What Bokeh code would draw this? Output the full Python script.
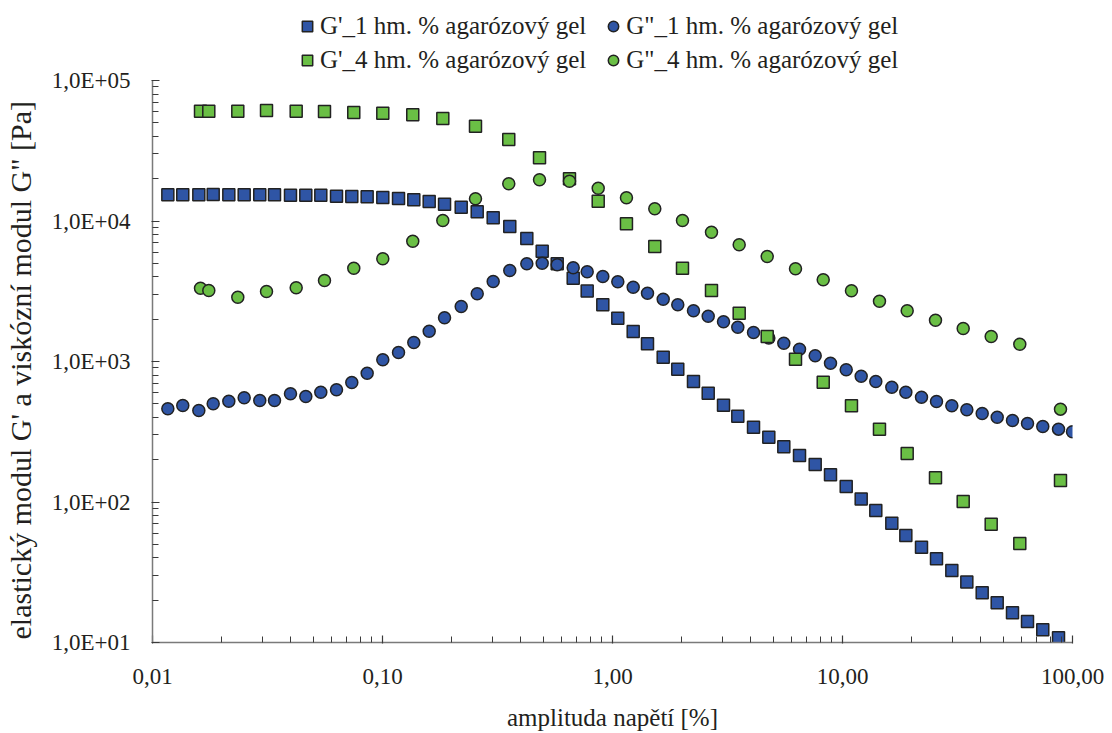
from bokeh.plotting import figure
from bokeh.models import (Range1d, FixedTicker, CustomJSTickFormatter, Legend,
                          LegendItem)
from bokeh.embed import file_html
from bokeh.resources import INLINE

# ---------------- data ----------------
# strain amplitude [%], 1 wt.% gel (shared by G' and G")
x_1 = [0.01166, 0.01354, 0.01590, 0.01836, 0.02147, 0.02504, 0.02927, 0.03392, 0.03981, 0.04640,
       0.05392, 0.06310, 0.07354, 0.08577, 0.1003, 0.1174, 0.1368, 0.1596, 0.1861, 0.2199,
       0.2581, 0.3029, 0.3576, 0.4241, 0.4947, 0.5749, 0.6748, 0.7762, 0.9075, 1.0545,
       1.2303, 1.4196, 1.6613, 1.9222, 2.2496, 2.6069, 3.0384, 3.5057, 4.1033, 4.7819,
       5.5567, 6.5034, 7.6084, 8.8683, 10.378, 12.057, 13.956, 16.383, 18.851, 22.054,
       25.627, 29.878, 34.718, 40.494, 47.055, 54.843, 63.735, 74.264, 86.937, 100.0]
# G' 1 wt.% [Pa]
gp_1 = [15370, 15370, 15370, 15440, 15370, 15370, 15370, 15370, 15270, 15270,
        15270, 15020, 14950, 14870, 14700, 14460, 14150, 13760, 13170, 12540,
        11630, 10540, 9140, 7510, 6100, 4960, 3920, 3170, 2530, 2030,
        1635, 1337, 1073, 882, 721, 595, 489, 408, 341, 289,
        247, 214, 185, 156, 129, 105, 87.0, 70.6, 57.7, 47.7,
        39.4, 32.5, 26.9, 22.6, 19.2, 16.3, 14.1, 12.3, 10.8]
# G" 1 wt.% [Pa]
gpp_1 = [461, 486, 448, 500, 522, 552, 528, 528, 589, 564,
         605, 629, 709, 826, 1028, 1159, 1365, 1643, 2046, 2463,
         3033, 3709, 4442, 4960, 5009, 4880, 4645, 4348, 4027, 3691,
         3379, 3062, 2776, 2533, 2296, 2101, 1917, 1754, 1608, 1470,
         1348, 1223, 1098, 973, 873, 786, 721, 656, 605, 557,
         519, 484, 453, 427, 401, 380, 362, 345, 330, 316]

# strain amplitude [%], 4 wt.% gel
x_4 = [0.01617, 0.01757, 0.02349, 0.03131, 0.04214, 0.05595, 0.07501, 0.1003, 0.1354, 0.1829,
       0.2537, 0.3540, 0.4816, 0.6501, 0.8667, 1.150, 1.527, 2.015, 2.694, 3.555,
       4.706, 6.247, 8.245, 10.94, 14.48, 19.11, 25.37, 33.48, 44.31, 59.00, 88.67]
gp_4 = [60470, 60470, 60470, 61170, 60470, 60180, 59200, 58530, 57010, 53640,
        47280, 38030, 28180, 19970, 13830, 9552, 6584, 4614, 3201, 2207,
        1507, 1038, 712, 484, 330, 221, 149, 101, 69.5, 50.6, 142]
gpp_4 = [3324, 3201, 2868, 3150, 3346, 3772, 4614, 5383, 7183, 10080,
         14390, 18400, 19650, 19200, 17120, 14630, 12210, 10080, 8325, 6770,
         5588, 4568, 3815, 3186, 2687, 2296, 1968, 1718, 1507, 1328, 458]

series_labels = ["G'_1 hm. % agarózový gel", 'G"_1 hm. % agarózový gel',
                 "G'_4 hm. % agarózový gel", 'G"_4 hm. % agarózový gel']

x_ticks = [0.01, 0.1, 1, 10, 100]
x_tick_labels = ["0,01", "0,10", "1,00", "10,00", "100,00"]
y_ticks = [10, 100, 1000, 10000, 100000]
y_tick_labels = ["1,0E+01", "1,0E+02", "1,0E+03", "1,0E+04", "1,0E+05"]

x_title = "amplituda napětí [%]"
y_title = 'elastický modul G\' a viskózní modul G" [Pa]'

# ---------------- geometry ----------------
W, H = 1112, 733
LEFT, RIGHT, BOTTOM = 152, 40, 91
AXIS_TOP_PX = 80                      # where the 1E+05 end of the y axis sits
plot_h = H - BOTTOM                   # frame reaches the top of the page
dec_px = (plot_h - AXIS_TOP_PX) / 4.0 # pixels per decade on y
y_end = 1e5 * 10 ** (AXIS_TOP_PX / dec_px)

BLUE = "#2f55a5"
GREEN = "#6abf45"
EDGE = "#222222"
TEXT = "#231f20"
FONT = "Liberation Serif"

p = figure(width=W, height=H, x_axis_type="log", y_axis_type="log",
           x_range=Range1d(0.01, 100), y_range=Range1d(10, y_end),
           output_backend="svg", toolbar_location=None,
           min_border_left=LEFT, min_border_right=RIGHT,
           min_border_top=0, min_border_bottom=BOTTOM)
p.outline_line_color = None
p.grid.visible = False
p.background_fill_color = "white"

xminor = [m * 10.0 ** e for e in range(-2, 2) for m in range(2, 10)]
yminor = [m * 10.0 ** e for e in range(1, 5) for m in range(2, 10)]
p.xaxis.ticker = FixedTicker(ticks=x_ticks, minor_ticks=xminor)
p.yaxis.ticker = FixedTicker(ticks=y_ticks, minor_ticks=yminor)
p.xaxis.bounds = (x_ticks[0], x_ticks[-1])
p.yaxis.bounds = (y_ticks[0], y_ticks[-1])

fmt_code = """
let best = 0, d = Infinity;
for (let i = 0; i < tv.length; i++) {
  const e = Math.abs(Math.log10(tick) - Math.log10(tv[i]));
  if (e < d) { d = e; best = i; }
}
return tl[best];
"""
p.xaxis.formatter = CustomJSTickFormatter(args=dict(tv=x_ticks, tl=x_tick_labels), code=fmt_code)
p.yaxis.formatter = CustomJSTickFormatter(args=dict(tv=y_ticks, tl=y_tick_labels), code=fmt_code)

for ax in (p.xaxis[0], p.yaxis[0]):
    ax.axis_line_color = "#7a7a7a"
    ax.axis_line_width = 1.5
    ax.major_tick_line_color = "#3a3a3a"
    ax.minor_tick_line_color = "#3a3a3a"
    ax.major_tick_line_width = 1.2
    ax.minor_tick_line_width = 1.0
    ax.major_tick_in = 7
    ax.major_tick_out = 1
    ax.minor_tick_in = 6
    ax.minor_tick_out = 0
    ax.major_label_text_font = FONT
    ax.major_label_text_font_size = "23px"
    ax.major_label_text_color = TEXT
    ax.axis_label_text_font = FONT
    ax.axis_label_text_font_style = "normal"
    ax.axis_label_text_color = TEXT
p.xaxis.major_label_standoff = 25
p.yaxis.major_label_standoff = 21
p.xaxis.axis_label = x_title
p.xaxis.axis_label_text_font_size = "25px"
p.xaxis.axis_label_standoff = 17

# y title: in the reference it starts at the bottom end of the axis; the label is
# centred on the frame, so trailing no-break spaces shift the visible text down.
p.yaxis.axis_label_text_font_size = "30px"
p.yaxis.axis_label_standoff = 12
p.yaxis.axis_label = y_title + "\u00a0" * 13

# ---------------- marks ----------------
r1 = p.scatter(x_1[:len(gp_1)], gp_1, marker="square", size=12,
               fill_color=BLUE, line_color=EDGE, line_width=1.5)
r2 = p.scatter(x_1[:len(gpp_1)], gpp_1, marker="circle", size=12,
               fill_color=BLUE, line_color=EDGE, line_width=1.5)
r3 = p.scatter(x_4[:len(gp_4)], gp_4, marker="square", size=12,
               fill_color=GREEN, line_color=EDGE, line_width=1.5)
r4 = p.scatter(x_4[:len(gpp_4)], gpp_4, marker="circle", size=12,
               fill_color=GREEN, line_color=EDGE, line_width=1.5)

def make_legend(items, top_px):
    # location = (left, bottom) in screen px measured from the frame's bottom-left corner
    loc = (142, plot_h - top_px - 28)
    return Legend(items=items, location=loc, orientation="horizontal",
                  label_text_font=FONT, label_text_font_size="25px",
                  label_text_color=TEXT, glyph_width=26, glyph_height=28,
                  label_standoff=0, spacing=14, padding=0, margin=0,
                  border_line_color=None, background_fill_alpha=0)

leg1 = make_legend([LegendItem(label=series_labels[0], renderers=[r1]),
                    LegendItem(label=series_labels[1], renderers=[r2])], 12)
leg2 = make_legend([LegendItem(label=series_labels[2], renderers=[r3]),
                    LegendItem(label=series_labels[3], renderers=[r4])], 46)
p.add_layout(leg1)
p.add_layout(leg2)

open("out.html", "w").write(file_html(p, INLINE))
